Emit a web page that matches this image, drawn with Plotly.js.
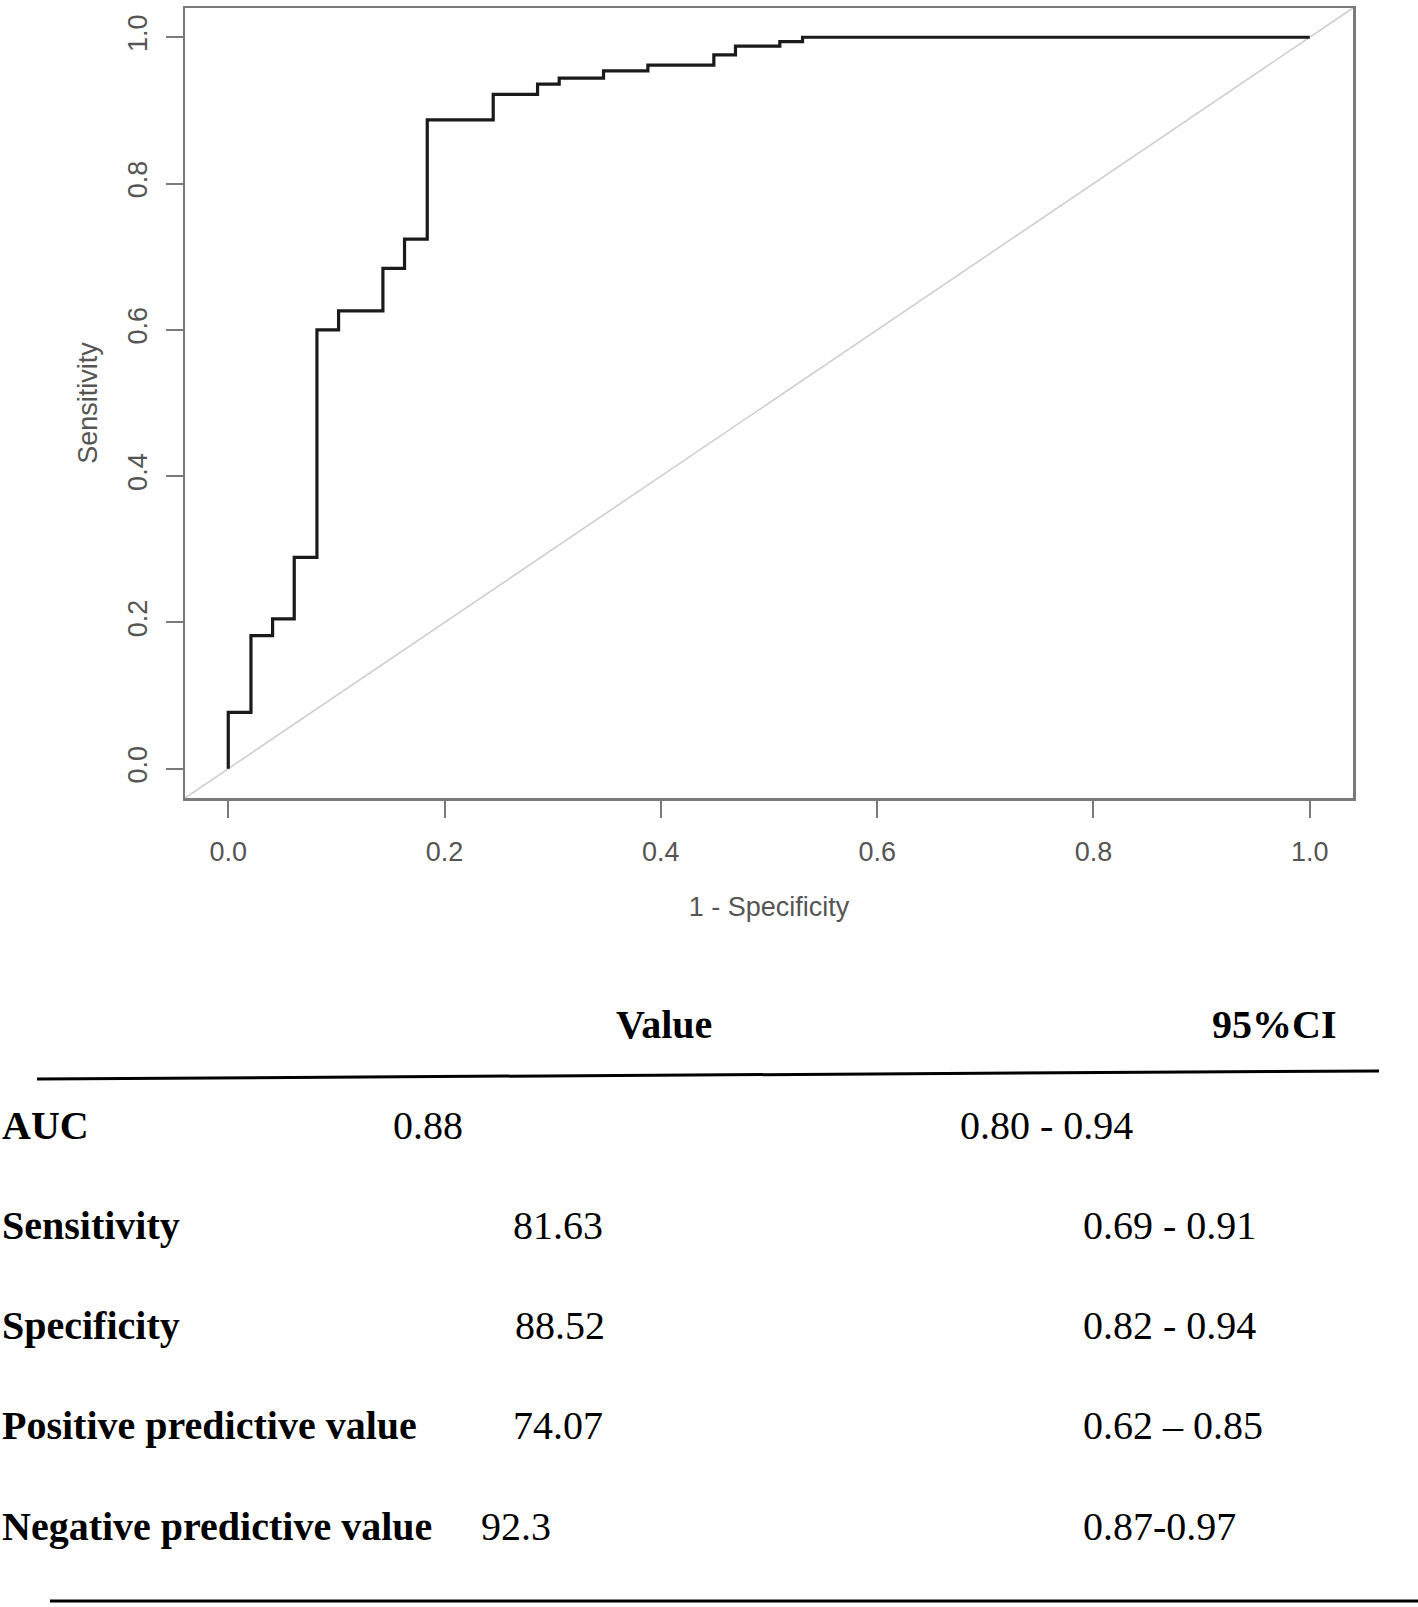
<!DOCTYPE html>
<html>
<head>
<meta charset="utf-8">
<script src="https://cdn.plot.ly/plotly-3.0.1.min.js"></script>
<style>
  body { margin: 0; background: #fff; }
  #roc { width: 1418px; height: 1607px; }
</style>
</head>
<body>
<div id="roc"></div>
<script>
// ROC curve steps (1 - specificity, sensitivity)
var fpr = [0, 0, 0.021, 0.041, 0.061, 0.082, 0.102, 0.143, 0.163, 0.184, 0.245, 0.286, 0.306, 0.347, 0.388, 0.449, 0.469, 0.510, 0.531, 1.0];
var tpr = [0, 0.077, 0.182, 0.205, 0.289, 0.600, 0.626, 0.684, 0.724, 0.887, 0.922, 0.936, 0.944, 0.954, 0.962, 0.976, 0.988, 0.994, 1.0, 1.0];
var tickVals = [0, 0.2, 0.4, 0.6, 0.8, 1.0];
var tickText = ['0.0', '0.2', '0.4', '0.6', '0.8', '1.0'];

// summary table
var headers = ['Value', '95%CI'];
var metricNames = ['AUC', 'Sensitivity', 'Specificity', 'Positive predictive value', 'Negative predictive value'];
var metricValues = ['0.88', '81.63', '88.52', '74.07', '92.3'];
var metricCIs = ['0.80 - 0.94', '0.69 - 0.91', '0.82 - 0.94', '0.62 \u2013 0.85', '0.87-0.97'];

// plot box in pixels
var W = 1418, H = 1607;
var boxL = 185, boxR = 1353, boxT = 5, boxB = 798;
function px(x) { return (x - boxL) / (boxR - boxL); }
function py(y) { return (boxB - y) / (boxB - boxT); }

var serif = 'Liberation Serif, Times New Roman, serif';
var sans = 'Liberation Sans, Arial, sans-serif';

var annotations = [];
// header row
annotations.push({xref: 'paper', yref: 'paper', x: px(664), y: py(1025), xanchor: 'center', yanchor: 'middle',
    text: '<b>' + headers[0] + '</b>', showarrow: false, font: {family: serif, size: 40, color: '#000'}});
annotations.push({xref: 'paper', yref: 'paper', x: px(1338), y: py(1025), xanchor: 'right', yanchor: 'middle',
    text: '<b>' + headers[1] + '</b>', showarrow: false, font: {family: serif, size: 40, color: '#000'}});

var rowY = [1127, 1227, 1328, 1428, 1529];
var valueX = [391, 511, 513, 511, 479];
var ciX = [958, 1081, 1081, 1081, 1081];
for (var i = 0; i < metricNames.length; i++) {
    annotations.push({xref: 'paper', yref: 'paper', x: px(0), y: py(rowY[i]), xanchor: 'left', yanchor: 'middle',
        text: '<b>' + metricNames[i] + '</b>', showarrow: false, font: {family: serif, size: 40, color: '#000'}});
    annotations.push({xref: 'paper', yref: 'paper', x: px(valueX[i]), y: py(rowY[i]), xanchor: 'left', yanchor: 'middle',
        text: metricValues[i], showarrow: false, font: {family: serif, size: 40, color: '#000'}});
    annotations.push({xref: 'paper', yref: 'paper', x: px(ciX[i]), y: py(rowY[i]), xanchor: 'left', yanchor: 'middle',
        text: metricCIs[i], showarrow: false, font: {family: serif, size: 40, color: '#000'}});
}

var shapes = [
    // chance diagonal across the whole plot region
    {type: 'line', xref: 'paper', yref: 'paper', x0: 0, y0: 0, x1: 1, y1: 1,
        line: {color: '#cfcfcf', width: 1.6}, layer: 'below'},
    // table rules
    {type: 'line', xref: 'paper', yref: 'paper', x0: px(37), y0: py(1080), x1: px(1379), y1: py(1072),
        line: {color: '#000', width: 3}},
    {type: 'line', xref: 'paper', yref: 'paper', x0: px(50), y0: py(1604), x1: px(1418), y1: py(1604),
        line: {color: '#000', width: 3}}
];

var data = [{
    x: fpr, y: tpr, type: 'scatter', mode: 'lines',
    line: {shape: 'hv', color: '#1a1a1a', width: 3.2},
    hoverinfo: 'skip', showlegend: false
}];

var axisCommon = {
    range: [-0.04, 1.04], showgrid: false, zeroline: false,
    showline: true, mirror: true, linecolor: '#7a7a7a', linewidth: 2.5,
    ticks: 'outside', ticklen: 17, tickwidth: 2, tickcolor: '#7a7a7a',
    tickmode: 'array', tickvals: tickVals, ticktext: tickText,
    tickfont: {family: sans, size: 27, color: '#555'},
    fixedrange: true, automargin: true
};

var layout = {
    width: W, height: H,
    margin: {l: boxL, r: W - boxR, t: boxT, b: H - boxB},
    paper_bgcolor: '#fff', plot_bgcolor: '#fff',
    xaxis: Object.assign({}, axisCommon, {
        ticklabelstandoff: 11,
        title: {text: '1 - Specificity', standoff: 31, font: {family: sans, size: 27, color: '#555'}}
    }),
    yaxis: Object.assign({}, axisCommon, {
        tickangle: -90, ticklabelstandoff: 8,
        title: {text: 'Sensitivity', standoff: 18, font: {family: sans, size: 27, color: '#555'}}
    }),
    shapes: shapes,
    annotations: annotations,
    hovermode: false
};

Plotly.newPlot(document.getElementById('roc'), data, layout, {displayModeBar: false, staticPlot: true});
</script>
</body>
</html>
